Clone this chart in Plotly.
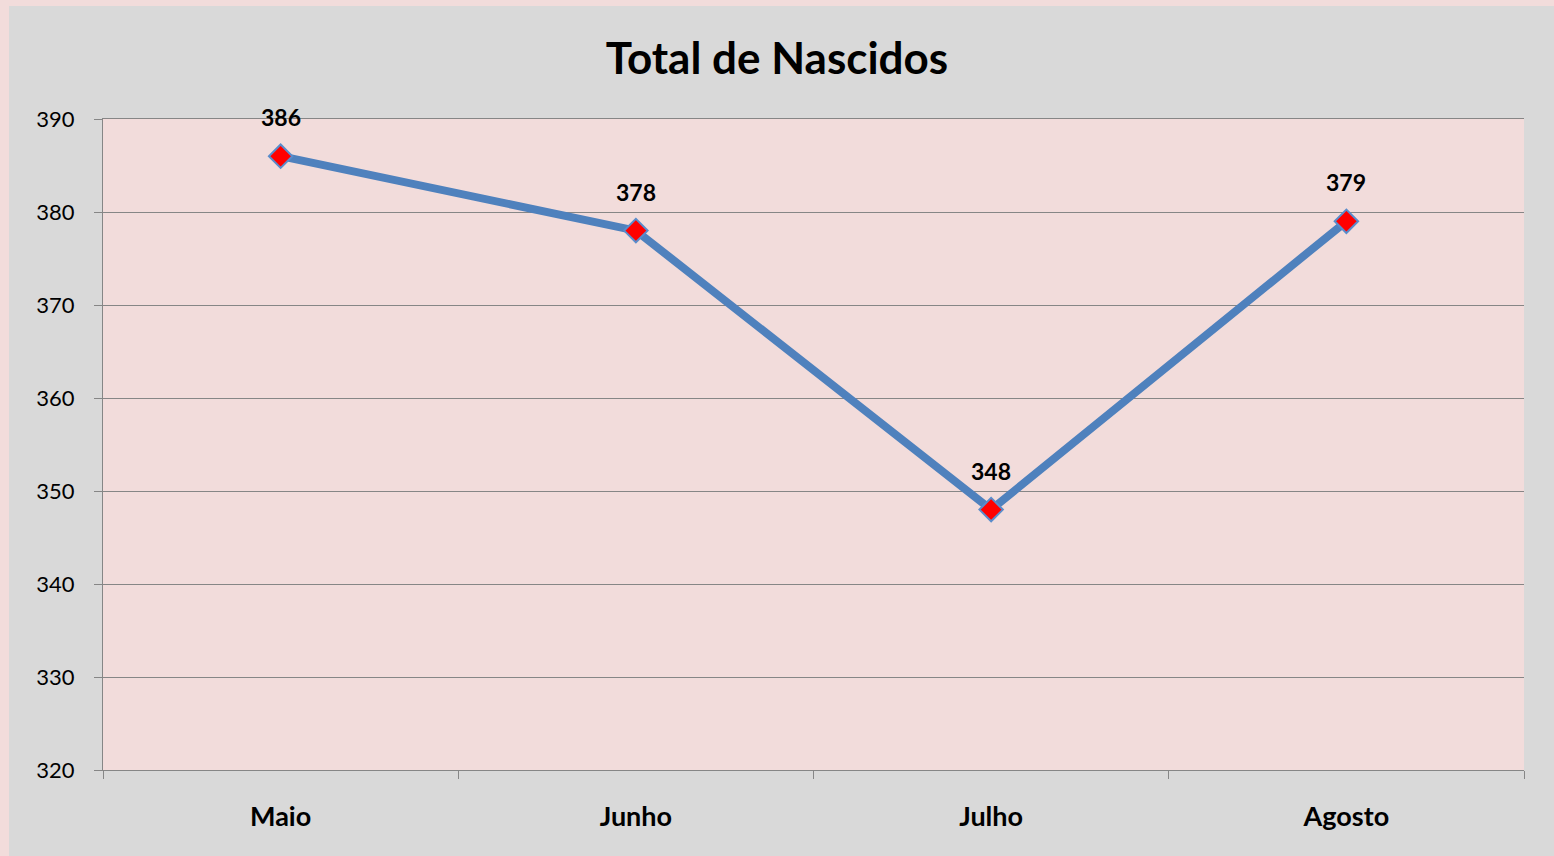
import plotly.graph_objects as go

months = ["Maio", "Junho", "Julho", "Agosto"]
births = [386, 378, 348, 379]
y_ticks = [320, 330, 340, 350, 360, 370, 380, 390]
title_text = "Total de Nascidos"

W, H = 1554, 856
L, R, T, B = 103, 30, 119, 86
FONT = "Lato"
PW, PH = W - L - R, H - T - B

fig = go.Figure()
fig.add_trace(go.Scatter(
    x=months, y=births, mode="lines+markers",
    line=dict(color="#4f81bd", width=8),
    marker=dict(symbol="diamond", size=18, color="#ff0000",
                line=dict(color="#5a8ccb", width=2)),
    hoverinfo="skip", showlegend=False,
))

for m, v in zip(months, births):
    fig.add_annotation(x=m, y=v, text=f"<b>{v}</b>", showarrow=False,
                       yshift=39, font=dict(family=FONT, size=23, color="black"))

# pink outer border strips (left and top)
fig.add_shape(type="rect", xref="paper", yref="paper",
              x0=-L / PW, x1=(9 - L) / PW,
              y0=-B / PH, y1=(H - B) / PH,
              fillcolor="#f2dcdb", line=dict(width=0), layer="above")
fig.add_shape(type="rect", xref="paper", yref="paper",
              x0=-L / PW, x1=(W - L) / PW,
              y0=(H - B - 6) / PH, y1=(H - B) / PH,
              fillcolor="#f2dcdb", line=dict(width=0), layer="above")

fig.update_layout(
    width=W, height=H,
    margin=dict(l=L, r=R, t=T, b=B),
    paper_bgcolor="#d9d9d9",
    plot_bgcolor="#f2dcdb",
    title=dict(text=f"<b>{title_text}</b>", x=0.5, xanchor="center",
               y=1 - 59 / H, yanchor="middle",
               font=dict(family=FONT, size=44, color="black")),
    font=dict(family=FONT, color="black"),
)
fig.update_xaxes(
    type="category", range=[-0.5, len(months) - 0.5],
    tickson="boundaries", showgrid=False,
    showline=True, mirror=True, linecolor="#868686", linewidth=1,
    ticks="outside", ticklen=8, tickcolor="#868686", tickwidth=1,
    tickfont=dict(family=FONT, size=27, color="black"),
    tickprefix="<b>", ticksuffix="</b>",
    ticklabelstandoff=23, zeroline=False,
)
fig.update_yaxes(
    range=[320, 390], tickvals=y_ticks, showgrid=True,
    gridcolor="#868686", gridwidth=1,
    showline=True, linecolor="#868686", linewidth=1,
    ticks="outside", ticklen=8, tickcolor="#868686", tickwidth=1,
    tickfont=dict(family=FONT, size=22, color="black"),
    ticklabelstandoff=15, zeroline=False,
)

fig.write_html(
    "out.html",
    config={"displayModeBar": False},
    post_script="document.body.style.margin='0';document.body.style.overflow='hidden';document.body.style.background='#f2dcdb';",
)
